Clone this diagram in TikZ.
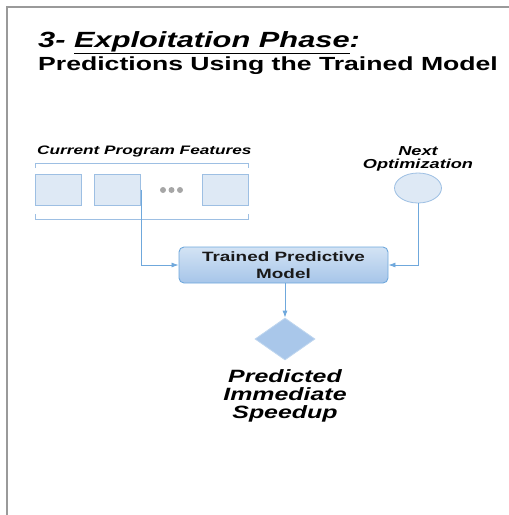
\documentclass[tikz,border=0pt]{standalone}
\usepackage{fontspec}
\setmainfont[FakeStretch=1.4]{Liberation Sans}
\usetikzlibrary{shapes.geometric,arrows.meta}
\definecolor{boxfill}{HTML}{DEE9F5}
\definecolor{boxdraw}{HTML}{9DBFE3}
\definecolor{linec}{HTML}{6FA8DC}
\definecolor{framec}{HTML}{9A9A9A}
\definecolor{modtop}{HTML}{D3E3F4}
\definecolor{modbot}{HTML}{A6C5E9}
\definecolor{diafill}{HTML}{A9C7EA}
\definecolor{diadraw}{HTML}{BFD6EF}
\tikzset{
  feat/.style={draw=boxdraw, fill=boxfill, line width=0.8pt, minimum width=46pt, minimum height=31pt, inner sep=0pt},
  conn/.style={draw=linec, line width=0.8pt, -{Latex[length=7pt,width=5pt]}},
  brk/.style={draw=boxdraw, line width=1pt},
  lbl/.style={inner sep=0pt, anchor=base},
  dot/.style={circle, fill=gray!70, inner sep=0pt, minimum size=6pt},
}
\begin{document}
\begin{tikzpicture}[x=1pt,y=-1pt]
\useasboundingbox (0,0) rectangle (509,515);
% frame
\draw[framec, line width=1.6pt] (7,515) -- (7,7) -- (509,7);
% title
\node[lbl, anchor=base west] (t1) at (38,47) {\fontsize{22}{24}\selectfont\bfseries\itshape 3- \underline{Exploitation Phase}:};
\node[lbl, anchor=base west] (t2) at (38,70) {\fontsize{19}{22}\selectfont\bfseries Predictions Using the Trained Model};
% features
\node[lbl, anchor=base west] (cpf) at (37,154) {\fontsize{12.3}{14}\selectfont\bfseries\itshape Current Program Features};
\draw[brk] (35,168) -- (35,163) -- (248,163) -- (248,168);
\draw[brk] (35,214) -- (35,219) -- (248,219) -- (248,214);
\node[feat] (b1) at (58,189.5) {};
\node[feat] (b2) at (117.5,189.5) {};
\node[feat] (b3) at (225.5,189.5) {};
\node[dot] (d1) at (163,190) {};
\node[dot] (d2) at (171.5,190) {};
\node[dot] (d3) at (180,190) {};
% next optimization
\node[lbl] (no1) at (418,155) {\fontsize{13}{15}\selectfont\bfseries\itshape Next};
\node[lbl] (no2) at (418,168) {\fontsize{13}{15}\selectfont\bfseries\itshape Optimization};
\node[ellipse, draw=boxdraw, fill=boxfill, line width=0.8pt, minimum width=47pt, minimum height=30pt, inner sep=0pt] (opt) at (418,188) {};
% model
\node[draw=linec, line width=0.9pt, rounded corners=5pt, top color=modtop, bottom color=modbot, minimum width=209pt, minimum height=36pt, inner sep=0pt, align=center, text=black!90, font=\fontsize{13.5}{17}\selectfont\bfseries] (model) at (283.5,265) {Trained Predictive\\Model};
% diamond
\node[diamond, draw=diadraw, fill=diafill, line width=0.8pt, minimum width=60pt, minimum height=42pt, inner sep=0pt, aspect=1.43] (dia) at (285,339) {};
% predicted speedup
\node[lbl] (p1) at (285,382) {\fontsize{17.8}{19}\selectfont\bfseries\itshape Predicted};
\node[lbl] (p2) at (285,400) {\fontsize{17.8}{19}\selectfont\bfseries\itshape Immediate};
\node[lbl] (p3) at (285,418) {\fontsize{17.8}{19}\selectfont\bfseries\itshape Speedup};
% connectors
\draw[conn] (b2.east) |- (model.west);
\draw[conn] (opt.south) |- (model.east);
\draw[conn] (model.south -| dia.north) -- (dia.north);
\end{tikzpicture}
\end{document}
